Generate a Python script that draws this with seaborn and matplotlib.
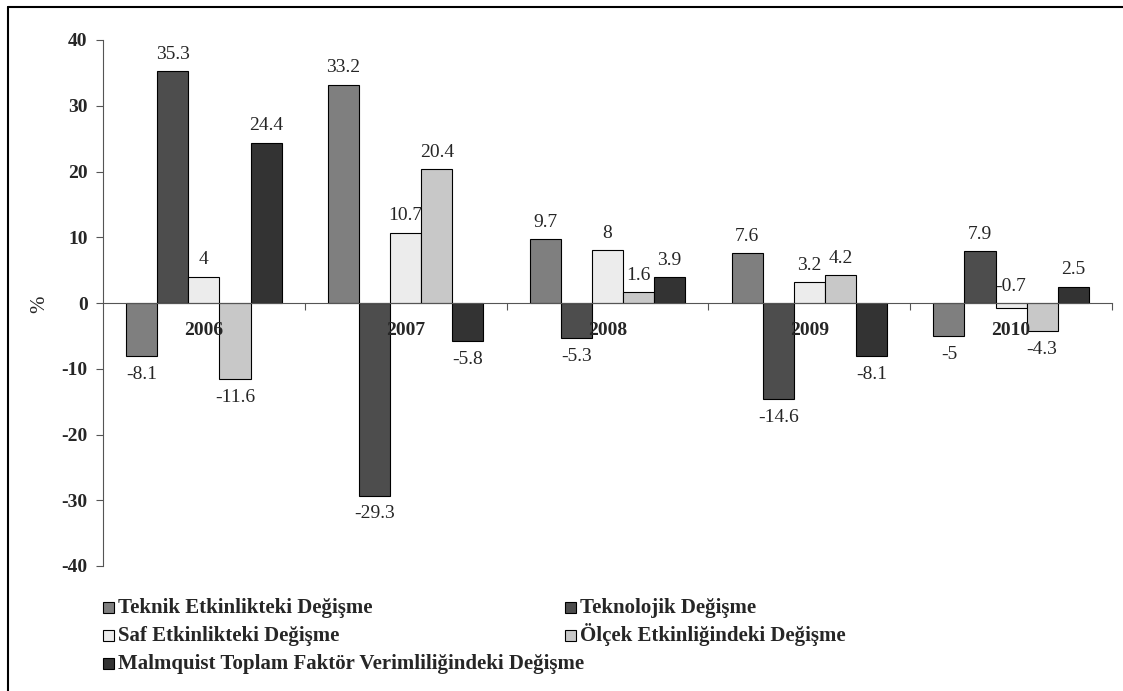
import pandas as pd
import matplotlib
matplotlib.use("Agg")
import matplotlib.pyplot as plt
import seaborn as sns
from matplotlib.lines import Line2D
from matplotlib.patches import Rectangle
from matplotlib.ticker import FixedLocator

years = ["2006", "2007", "2008", "2009", "2010"]
series = [
    "Teknik Etkinlikteki Değişme",
    "Teknolojik Değişme",
    "Saf Etkinlikteki Değişme",
    "Ölçek Etkinliğindeki Değişme",
    "Malmquist Toplam Faktör Verimliliğindeki Değişme",
]
teknik = [-8.1, 33.2, 9.7, 7.6, -5]
teknolojik = [35.3, -29.3, -5.3, -14.6, 7.9]
saf = [4, 10.7, 8, 3.2, -0.7]
olcek = [-11.6, 20.4, 1.6, 4.2, -4.3]
malmquist = [24.4, -5.8, 3.9, -8.1, 2.5]
colors = ["#7f7f7f", "#4d4d4d", "#ececec", "#c8c8c8", "#333333"]

values = [teknik, teknolojik, saf, olcek, malmquist]
rows = []
for name, vals in zip(series, values):
    for y, v in zip(years, vals):
        rows.append({"Yıl": y, "Seri": name, "Değer": v})
df = pd.DataFrame(rows)

sns.set_style("white")
plt.rcParams["font.family"] = ["Liberation Serif", "DejaVu Serif"]
plt.rcParams["axes.unicode_minus"] = False

fig = plt.figure(figsize=(11.23, 6.91), dpi=100)
W, H = 1123, 691
ax = fig.add_axes([103 / W, 1 - 566 / H, (1112 - 103) / W, (566 - 40) / H])

sns.barplot(data=df, x="Yıl", y="Değer", hue="Seri", order=years,
            hue_order=series, palette=colors, width=0.77, saturation=1,
            edgecolor="black", linewidth=0.8, ax=ax, legend=False)

# data labels: above positive bars, below negative ones (tiny negatives above the axis)
for cont in ax.containers:
    for b in cont:
        v = b.get_height()
        xc = b.get_x() + b.get_width() / 2
        if v >= 0:
            ax.annotate("%g" % v, (xc, v), xytext=(0, 6), textcoords="offset points",
                        ha="center", va="bottom", fontsize=14)
        elif v > -1:
            ax.annotate("%g" % v, (xc, 0), xytext=(0, 6), textcoords="offset points",
                        ha="center", va="bottom", fontsize=14)
        else:
            ax.annotate("%g" % v, (xc, v), xytext=(0, -7), textcoords="offset points",
                        ha="center", va="top", fontsize=14)

ax.set_ylim(-40, 40)
ax.set_xlim(-0.5, 4.5)
ax.set_yticks(range(-40, 41, 10))
for lab in ax.get_yticklabels():
    lab.set_fontweight("bold")
    lab.set_fontsize(14)
ax.tick_params(axis="y", direction="out", length=5, width=0.8, color="#555555",
               left=True, pad=6)
ax.spines["bottom"].set_position(("data", 0))
for s in ["top", "right"]:
    ax.spines[s].set_visible(False)
for s in ["left", "bottom"]:
    ax.spines[s].set_color("#555555")
    ax.spines[s].set_linewidth(0.8)
ax.tick_params(axis="x", which="major", length=0, pad=14, labelsize=14)
for lab in ax.get_xticklabels():
    lab.set_fontweight("bold")
ax.xaxis.set_minor_locator(FixedLocator([0.5, 1.5, 2.5, 3.5, 4.5]))
ax.tick_params(axis="x", which="minor", direction="out", length=5, width=0.8,
               color="#555555", bottom=True)
ax.set_axisbelow(False)
ax.set_xlabel("")
ax.set_ylabel("")
fig.text(40 / W, 1 - 304 / H, "%", rotation=90, ha="center", va="center", fontsize=15)

# legend, laid out like the original: 2 columns, last entry on its own row
slots = [(103, 607), (565, 607), (103, 635), (565, 635), (103, 663)]
for (px, py), name, c in zip(slots, series, colors):
    fig.add_artist(Rectangle((px / W, 1 - (py + 5.5) / H), 11 / W, 11 / H,
                             facecolor=c, edgecolor="black", linewidth=0.8,
                             transform=fig.transFigure))
    fig.text((px + 15) / W, 1 - (py + 6) / H, name, ha="left", va="baseline",
             fontsize=15, fontweight="bold")

fig.add_artist(Line2D([8 / W, 8 / W], [0, 1 - 7 / H], color="black", lw=1.5,
                      transform=fig.transFigure))
fig.add_artist(Line2D([8 / W, 1], [1 - 7 / H, 1 - 7 / H], color="black", lw=1.5,
                      transform=fig.transFigure))

fig.savefig("out.png", dpi=100, facecolor="white")
